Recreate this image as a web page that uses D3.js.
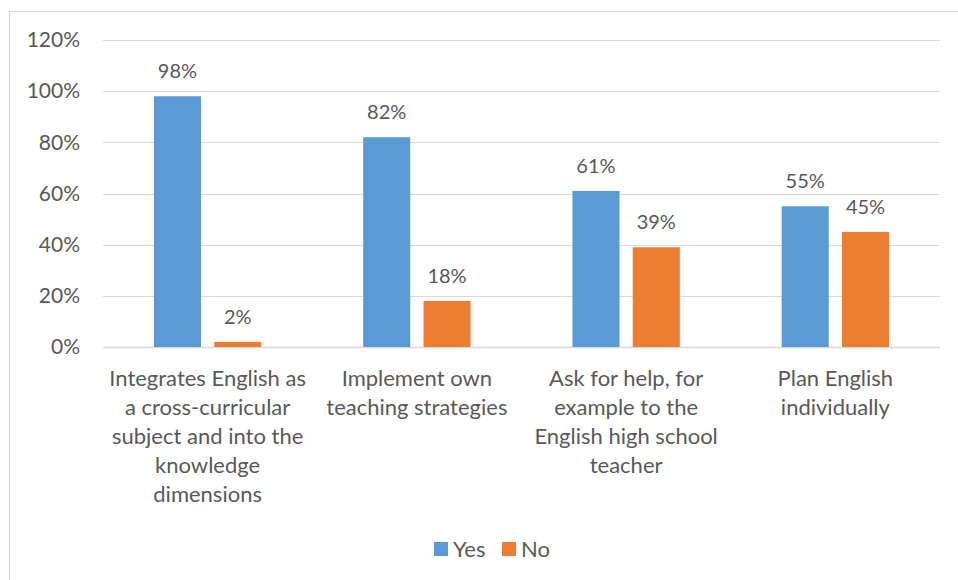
<!DOCTYPE html>
<html>
<head>
<meta charset="utf-8">
<script src="https://cdn.jsdelivr.net/npm/d3@7"></script>
<style>
  body { margin: 0; background: #fff; }
  text { font-family: Lato, "Open Sans", sans-serif; fill: #595959; }
</style>
</head>
<body>
<svg width="958" height="580"></svg>
<script>
// categories, wrapped like the original axis labels
const categories = [
    ['Integrates English as', 'a cross-curricular', 'subject and into the', 'knowledge', 'dimensions'],
    ['Implement own', 'teaching strategies'],
    ['Ask for help, for', 'example to the', 'English high school', 'teacher'],
    ['Plan English', 'individually'],
];
const seriesNames = ['Yes', 'No'];
const yesValues = [0.98, 0.82, 0.61, 0.55];
const noValues = [0.02, 0.18, 0.39, 0.45];
const yTicks = [0, 0.2, 0.4, 0.6, 0.8, 1.0, 1.2];
const colors = ['#5b9bd5', '#ed7d31'];

const svg = d3.select('svg');

// outer chart border
svg.append('rect')
    .attr('x', 9.5).attr('y', 11.5)
    .attr('width', 960).attr('height', 600)
    .attr('fill', 'none').attr('stroke', '#d9d9d9');

const plotLeft = 103, plotRight = 940, plotTop = 40, plotBottom = 347;

const x0 = d3.scaleBand()
    .domain(d3.range(categories.length))
    .range([plotLeft, plotRight])
    .paddingInner(0.487)
    .paddingOuter(0.2435);
const x1 = d3.scaleBand()
    .domain(seriesNames)
    .range([0, x0.bandwidth()])
    .paddingInner(0.22);
const y = d3.scaleLinear().domain([0, 1.2]).range([plotBottom, plotTop]);

// gridlines
svg.append('g')
    .selectAll('line')
    .data(yTicks)
    .join('line')
    .attr('x1', plotLeft).attr('x2', plotRight)
    .attr('y1', (d) => Math.round(y(d)) + 0.5)
    .attr('y2', (d) => Math.round(y(d)) + 0.5)
    .attr('stroke', '#d9d9d9')
    .attr('stroke-width', (d) => (d === 0 ? 1.5 : 1));

// y axis labels
const yAxis = svg.append('g')
    .attr('transform', `translate(${plotLeft - 23},0)`)
    .call(d3.axisLeft(y).tickValues(yTicks).tickFormat(d3.format('.0%')).tickSize(0).tickPadding(0));
yAxis.select('.domain').remove();
yAxis.selectAll('text')
    .attr('font-size', 21)
    .style('font-family', 'Lato, "Open Sans", sans-serif')
    .attr('fill', '#595959');

const data = categories.map((c, i) => ({ i, values: [yesValues[i], noValues[i]] }));

const groups = svg.append('g')
    .selectAll('g')
    .data(data)
    .join('g')
    .attr('transform', (d) => `translate(${x0(d.i)},0)`);

groups.selectAll('rect')
    .data((d) => d.values.map((v, k) => ({ v, k })))
    .join('rect')
    .attr('x', (d) => x1(seriesNames[d.k]))
    .attr('width', x1.bandwidth())
    .attr('y', (d) => y(d.v))
    .attr('height', (d) => plotBottom - y(d.v))
    .attr('fill', (d) => colors[d.k]);

groups.selectAll('text.val')
    .data((d) => d.values.map((v, k) => ({ v, k })))
    .join('text')
    .attr('class', 'val')
    .attr('x', (d) => x1(seriesNames[d.k]) + x1.bandwidth() / 2)
    .attr('y', (d) => y(d.v) - 18)
    .attr('text-anchor', 'middle')
    .attr('font-size', 20)
    .text((d) => d3.format('.0%')(d.v));

// category labels
const catLabels = svg.append('g')
    .selectAll('text')
    .data(categories)
    .join('text')
    .attr('text-anchor', 'middle')
    .attr('font-size', 22)
    .attr('x', (d, i) => x0(i) + x0.bandwidth() / 2)
    .attr('y', 386);
catLabels.selectAll('tspan')
    .data((d) => d)
    .join('tspan')
    .attr('x', function () { return this.parentNode.getAttribute('x'); })
    .attr('dy', (d, j) => (j === 0 ? 0 : 29))
    .text((d) => d);

// legend
const legend = svg.append('g').attr('transform', 'translate(434,542)');
const legendX = [0, 68];
seriesNames.forEach((name, k) => {
    legend.append('rect')
        .attr('x', legendX[k]).attr('y', 0)
        .attr('width', 14).attr('height', 14)
        .attr('fill', colors[k]);
    legend.append('text')
        .attr('x', legendX[k] + 19).attr('y', 15)
        .attr('font-size', 22)
        .text(name);
});
</script>
</body>
</html>
